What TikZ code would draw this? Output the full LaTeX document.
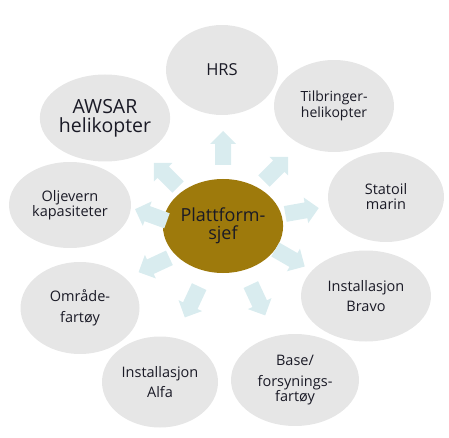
\documentclass[tikz,border=0pt]{standalone}
\usepackage{fontspec}
\setmainfont{Open Sans}
\usetikzlibrary{shapes.geometric}
\definecolor{bubble}{HTML}{E6E6E6}
\definecolor{hub}{HTML}{9E7A0C}
\definecolor{arr}{HTML}{D9ECEF}
\definecolor{txt}{HTML}{1A1A26}
\tikzset{
  bub/.style={ellipse, fill=bubble, inner sep=0pt, align=center, text=txt},
  blk/.style={fill=arr}
}
\newcommand{\fs}[2]{\fontsize{#1}{#2}\selectfont}
\newcommand{\blockarrow}[3]{%
  \fill[blk, shift={(#1,#2)}, rotate=#3] (-17,-8) -- (4,-8) -- (4,-13) -- (17,0) -- (4,13) -- (4,8) -- (-17,8) -- cycle;}
\begin{document}
\begin{tikzpicture}[x=1pt,y=-1pt]
\useasboundingbox (0,0) rectangle (449,438);
\node[bub, minimum width=112, minimum height=90, font=\fs{16.5}{19}] (hrs) at (222,70) {HRS};
\node[bub, minimum width=120, minimum height=92, font=\fs{14}{16.7}] (til) at (334,106) {Tilbringer-\\helikopter};
\node[bub, minimum width=116, minimum height=90, font=\fs{14.5}{15}] (sta) at (386,197) {Statoil\\marin};
\node[bub, minimum width=130, minimum height=91, font=\fs{14.5}{20.5}] (bra) at (366,296) {Installasjon\\Bravo};
\node[bub, minimum width=128, minimum height=92, font=\fs{14.5}{15}] (bas) at (295,380) {Base/\\[6pt]forsynings-\\fartøy};
\node[bub, minimum width=116, minimum height=91, font=\fs{14.5}{20.5}] (alf) at (160,382) {Installasjon\\Alfa};
\node[bub, minimum width=119, minimum height=92, font=\fs{14.5}{21}] (omr) at (80,308) {Område-\\fartøy};
\node[bub, minimum width=122, minimum height=86, font=\fs{14.5}{15}] (olj) at (70,205) {Oljevern\\kapasiteter};
\node[bub, minimum width=122, minimum height=87, font=\fs{19.5}{19}] (aws) at (105,118) {AWSAR\\helikopter};
\node[ellipse, fill=hub, inner sep=0pt, align=center, text=txt, minimum width=110, minimum height=94, font=\fs{18}{17.5}] (hub) at (223,226) {Plattform-\\sjef};
\blockarrow{223}{148}{90}
\blockarrow{276}{169}{45}
\blockarrow{302}{211}{10}
\blockarrow{290}{258}{-30}
\blockarrow{258}{300}{-65}
\blockarrow{192}{302}{-115}
\blockarrow{154}{265}{-155}
\blockarrow{151}{215}{160}
\blockarrow{166}{175}{135}
\end{tikzpicture}
\end{document}
